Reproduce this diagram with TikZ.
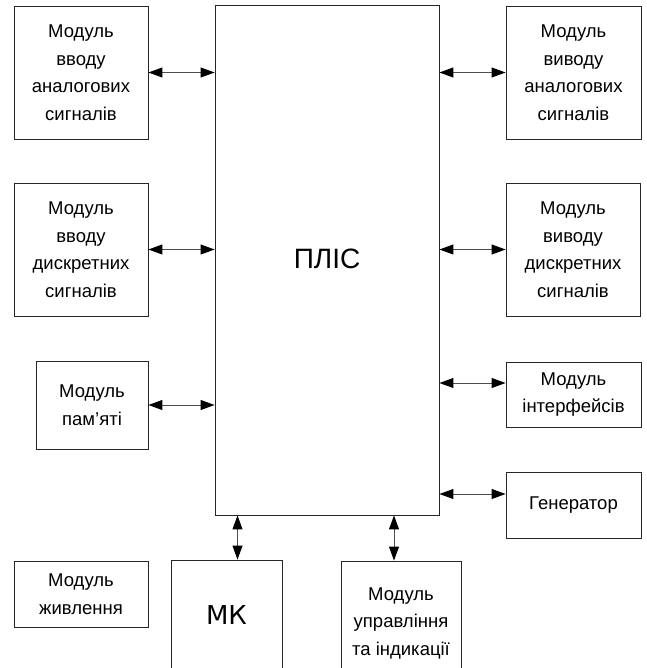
\documentclass[tikz,border=0pt]{standalone}
\usepackage{fontspec}
\setmainfont{Liberation Sans}
\newfontfamily\mkfont{DejaVu Sans}
\usetikzlibrary{arrows.meta}
\begin{document}
\begin{tikzpicture}[x=1pt,y=-1pt,
  box/.style={draw=black!85, line width=0.9pt, rectangle, inner sep=0pt, align=center,
    font=\fontsize{18.5pt}{27.5pt}\selectfont},
  biarrow/.style={draw=black!70, line width=1pt, {Triangle[length=14pt,width=10pt,fill=black,color=black]}-{Triangle[length=14pt,width=10pt,fill=black,color=black]}}]
\useasboundingbox (0,0) rectangle (646,668);
\fill[white] (0,0) rectangle (646,668);
\begin{scope}
\clip (0,0) rectangle (646,668);
\node[box, minimum width=224pt, minimum height=510pt] (plis) at (327,260) {};
\node at (327,259) [font=\fontsize{28pt}{30pt}\selectfont] (plist) {ПЛІС};
\node[box, minimum width=134pt, minimum height=133pt] (ai) at (81,72.5) {Модуль\\вводу\\аналогових\\сигналів};
\node[box, minimum width=135pt, minimum height=133pt] (ao) at (573.5,72.5) {Модуль\\виводу\\аналогових\\сигналів};
\node[box, minimum width=134pt, minimum height=133pt] (di) at (81,249.5) {Модуль\\вводу\\дискретних\\сигналів};
\node[box, minimum width=134pt, minimum height=133pt] (do) at (573,249.5) {Модуль\\виводу\\дискретних\\сигналів};
\node[box, minimum width=112pt, minimum height=88pt] (mem) at (92,405) {Модуль\\пам’яті};
\node[box, minimum width=135pt, minimum height=65pt] (intf) at (573.5,394.5) {Модуль\\інтерфейсів};
\node[box, minimum width=135pt, minimum height=66pt] (gen) at (573.5,505) {Генератор};
\node[box, minimum width=134pt, minimum height=66pt] (pow) at (81,594) {Модуль\\живлення};
\node[box, minimum width=111pt, minimum height=110pt, font=\mkfont\fontsize{26pt}{30pt}\selectfont] (mk) at (226.5,615) {МК};
\node[box, minimum width=120pt, minimum height=124pt] (ctl) at (401,623) {Модуль\\управління\\та індикації};
\end{scope}
\draw[biarrow] (ai.east) -- (ai.east -| plis.west);
\draw[biarrow] (ao.west) -- (ao.west -| plis.east);
\draw[biarrow] (di.east) -- (di.east -| plis.west);
\draw[biarrow] (do.west) -- (do.west -| plis.east);
\draw[biarrow] (mem.east) -- (mem.east -| plis.west);
\coordinate (ia) at ([yshift=11.5pt]intf.west);
\draw[biarrow] (ia) -- (ia -| plis.east);
\coordinate (ga) at ([yshift=11pt]gen.west);
\draw[biarrow] (ga) -- (ga -| plis.east);
\coordinate (ma) at ([xshift=11pt]mk.north);
\draw[biarrow] (ma) -- (ma |- plis.south);
\coordinate (ca) at ([xshift=-7pt]ctl.north);
\draw[biarrow] (ca) -- (ca |- plis.south);
\end{tikzpicture}
\end{document}
